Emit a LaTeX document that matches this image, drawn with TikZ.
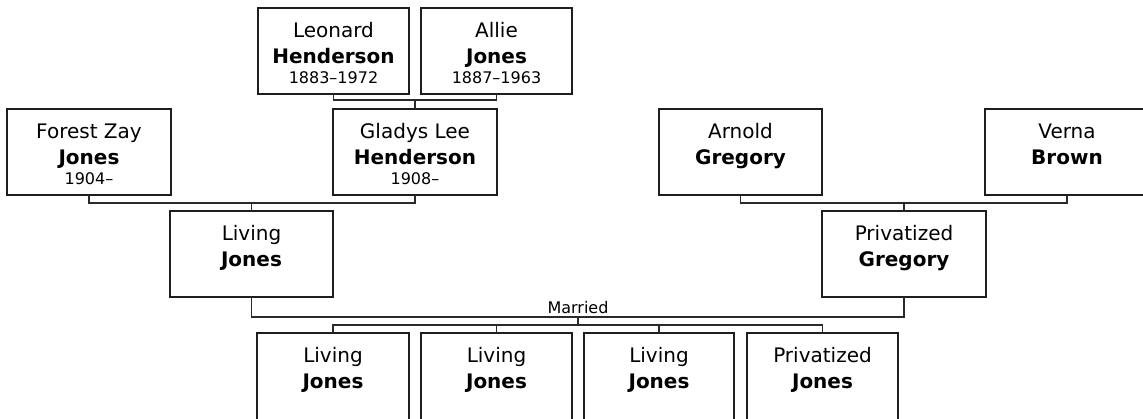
\documentclass[tikz,border=0pt]{standalone}
\usepackage{fontspec}
\setmainfont{DejaVu Sans}
\definecolor{ln}{HTML}{2A2A2A}
\definecolor{bd}{HTML}{1E1E1E}
\def\boxh{86}
\tikzset{
  pbox/.style={draw=bd, line width=1.5pt, minimum width=#1, minimum height=\boxh pt,
    inner sep=0pt, outer sep=0pt, fill=white, anchor=north},
  nm/.style={font=\fontsize{20}{24}\selectfont, anchor=base, inner sep=0pt},
  nb/.style={font=\fontsize{20}{24}\selectfont\bfseries, anchor=base, inner sep=0pt},
  dt/.style={font=\fontsize{16}{19}\selectfont, anchor=base, inner sep=0pt},
  conn/.style={draw=ln, line width=1.6pt},
}
\newcommand\personbox[7]{%
  \node[pbox=#4pt] (#1) at (#2,#3) {};
  \node[nm] (#1-a) at ([yshift=-29pt]#1.north) {#5};
  \node[nb] (#1-b) at ([yshift=-55pt]#1.north) {#6};
  \if\relax\detokenize{#7}\relax\else
    \node[dt] (#1-c) at ([yshift=-75pt]#1.north) {#7};\fi}
\begin{document}
\begin{tikzpicture}[x=1pt,y=-1pt]
\useasboundingbox (0,0) rectangle (1143,418);
% row 1
\personbox{leo}{333.5}{8}{151}{Leonard}{Henderson}{1883–1972}
\personbox{allie}{496.5}{8}{151}{Allie}{Jones}{1887–1963}
% row 2
\personbox{forest}{89}{109}{164}{Forest Zay}{Jones}{1904–}
\personbox{gladys}{415}{109}{164}{Gladys Lee}{Henderson}{1908–}
\personbox{arnold}{740.5}{109}{163}{Arnold}{Gregory}{}
\personbox{verna}{1067}{109}{164}{Verna}{Brown}{}
% row 3
\personbox{lj}{251.5}{211}{163}{Living}{Jones}{}
\personbox{pg}{904}{211}{164}{Privatized}{Gregory}{}
% row 4 (cut off at the bottom edge)
\def\boxh{94}
\personbox{c1}{333}{333}{152}{Living}{Jones}{}
\personbox{c2}{496.5}{333}{151}{Living}{Jones}{}
\personbox{c3}{659}{333}{150}{Living}{Jones}{}
\personbox{c4}{822.5}{333}{151}{Privatized}{Jones}{}
% connectors
\coordinate (b1) at (415,100);
\draw[conn] (leo.south) |- (b1) -| (allie.south);
\draw[conn] (b1) -- (gladys.north);
\coordinate (b2) at (251.5,203);
\draw[conn] (forest.south) |- (b2) -| (gladys.south);
\draw[conn] (b2) -- (lj.north);
\coordinate (b3) at (904,203);
\draw[conn] (arnold.south) |- (b3) -| (verna.south);
\draw[conn] (b3) -- (pg.north);
\coordinate (m) at (578,317);
\draw[conn] (lj.south) |- (m) -| (pg.south);
\node[dt] (married) at (578,313) {Married};
\coordinate (cb) at (578,325);
\draw[conn] (m) -- (cb);
\draw[conn] (c1.north) |- (cb) -| (c4.north);
\draw[conn] (c2.north) -- (c2.north |- cb);
\draw[conn] (c3.north) -- (c3.north |- cb);
\end{tikzpicture}
\end{document}
